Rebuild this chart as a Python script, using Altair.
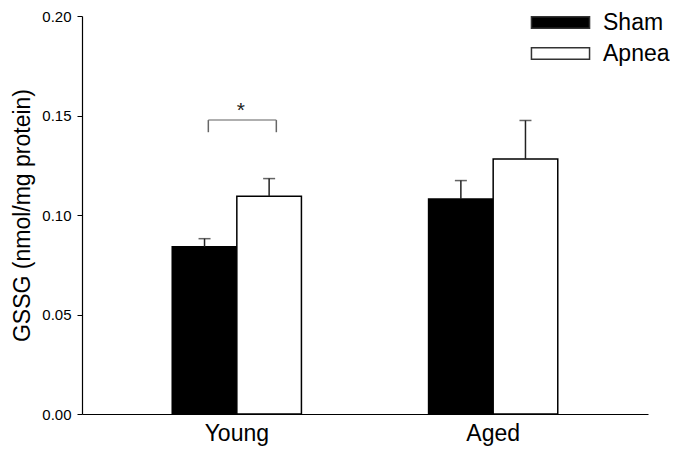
import altair as alt
import pandas as pd

groups = ["Young", "Young", "Aged", "Aged"]
treatments = ["Sham", "Apnea", "Sham", "Apnea"]
means = [0.0840, 0.1094, 0.1081, 0.1281]
sems = [0.0041, 0.0089, 0.0092, 0.0194]

group_order = ["Young", "Aged"]
treat_order = ["Sham", "Apnea"]
y_ticks = [0.0, 0.05, 0.10, 0.15, 0.20]

# significance bracket (Young: Sham vs Apnea)
bracket_group = ["Young"]
bracket_top = [0.1477]
bracket_bottom = [0.1416]
star_y = [0.1545]
star_text = ["*"]

df = pd.DataFrame({"group": groups, "treatment": treatments, "mean": means, "sem": sems})
df["upper"] = df["mean"] + df["sem"]

bdf = pd.DataFrame({"group": bracket_group, "top": bracket_top, "bottom": bracket_bottom})
sdf = pd.DataFrame({"group": bracket_group, "y": star_y, "t": star_text})

x_enc = alt.X("group:N", sort=group_order,
              scale=alt.Scale(paddingInner=0.496, paddingOuter=0.352),
              axis=alt.Axis(title=None, labelFontSize=23, labelColor="black",
                            labelFont="Liberation Sans", ticks=False, labelPadding=8,
                            domainColor="black", domainWidth=1.2, labelAngle=0))
xoff = alt.XOffset("treatment:N", sort=treat_order,
                   scale=alt.Scale(paddingInner=0, paddingOuter=0))
xg = alt.X("group:N", sort=group_order)
y_scale = alt.Scale(domain=[0, 0.2], nice=False)

bars = alt.Chart(df).mark_bar(stroke="black", strokeWidth=1.5).encode(
    x=x_enc,
    xOffset=xoff,
    y=alt.Y("mean:Q", scale=y_scale,
            axis=alt.Axis(values=y_ticks, format=".2f", title="GSSG (nmol/mg protein)",
                          titleFontSize=23, titleFontWeight="normal", titleColor="black",
                          titleFont="Liberation Sans", labelFont="Liberation Sans",
                          labelFontSize=15, labelColor="black", tickSize=5,
                          tickColor="black", domainColor="black", domainWidth=1.2,
                          labelPadding=6, titlePadding=7, grid=False)),
    fill=alt.Fill("treatment:N", sort=treat_order,
                  scale=alt.Scale(domain=treat_order, range=["black", "white"]),
                  legend=alt.Legend(title=None, orient="none", legendX=467, legendY=-5,
                                    symbolType="M-5,-1H5V1H-5Z", symbolSize=135,
                                    symbolStrokeColor="#333", symbolStrokeWidth=1.5,
                                    labelFontSize=23, labelFont="Liberation Sans",
                                    labelColor="black", labelOffset=31, rowPadding=7,
                                    padding=0)),
)

err = alt.Chart(df).mark_rule(color="#222", strokeWidth=1.5).encode(
    x=xg, xOffset=alt.XOffset("treatment:N", sort=treat_order),
    y="mean:Q", y2="upper:Q")

caps = alt.Chart(df).mark_tick(color="#222", thickness=1.5, size=12, orient="horizontal").encode(
    x=xg, xOffset=alt.XOffset("treatment:N", sort=treat_order),
    y="upper:Q")

bracket_h = alt.Chart(bdf).mark_tick(color="#666", thickness=1.5, size=68,
                                     orient="horizontal", xOffset=5.5).encode(
    x=xg, y="top:Q")
bracket_l = alt.Chart(bdf).mark_rule(color="#666", strokeWidth=1.5, xOffset=-28.5).encode(
    x=xg, y="top:Q", y2="bottom:Q")
bracket_r = alt.Chart(bdf).mark_rule(color="#666", strokeWidth=1.5, xOffset=39.5).encode(
    x=xg, y="top:Q", y2="bottom:Q")

star = alt.Chart(sdf).mark_text(fontSize=21, font="Liberation Sans", color="#222",
                                dx=4, dy=4).encode(
    x=xg, y="y:Q", text="t:N")

chart = alt.layer(bars, err, caps, bracket_h, bracket_l, bracket_r, star).properties(
    width=566, height=398, autosize="none",
    padding={"left": 74, "top": 8, "right": 22, "bottom": 40},
).configure_view(stroke=None).configure_axis(grid=False)

chart.save("out.html", embed_options={"renderer": "svg", "actions": False})
